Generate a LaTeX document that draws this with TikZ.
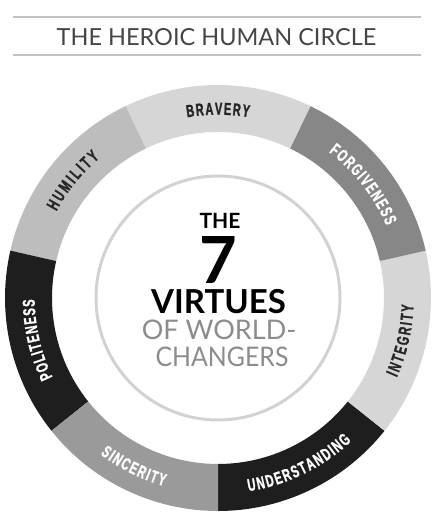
\documentclass[tikz,border=0pt]{standalone}
\usepackage{fontspec}
\usetikzlibrary{decorations.text}
\newfontfamily\latofont{Lato}
\newfontfamily\ringfont[FakeStretch=0.64,BoldFeatures={FakeBold=1.2}]{Liberation Sans}
\definecolor{segA}{HTML}{D6D6D6}
\definecolor{segB}{HTML}{BDBDBD}
\definecolor{segC}{HTML}{878787}
\definecolor{segD}{HTML}{1E1E1E}
\definecolor{segE}{HTML}{9A9A9A}
\definecolor{darktext}{HTML}{262626}
\definecolor{greytext}{HTML}{8C8C8C}
\definecolor{titletext}{HTML}{454545}
\definecolor{ruleline}{HTML}{C2C2C2}
\definecolor{innerring}{HTML}{D2D2D2}
\tikzset{
  ringlabel/.style n args={2}{decorate,decoration={text along path,
      text={|\ringfont\bfseries\fontsize{17.3}{17.3}\selectfont\color{#1}|#2},
      text align=fit to path}},
  centertext/.style={inner sep=0pt,anchor=center},
}
\begin{document}
\begin{tikzpicture}[x=1pt,y=1pt]
\useasboundingbox (0,0) rectangle (436pt,517pt);
\coordinate (C) at (218pt,219pt);
% title
\coordinate (tl1) at (13pt,500pt); \coordinate (tr1) at (421pt,500pt);
\coordinate (tl2) at (13pt,462pt); \coordinate (tr2) at (421pt,462pt);
\draw[ruleline,line width=1.3pt] (tl1) -- (tr1);
\draw[ruleline,line width=1.3pt] (tl2) -- (tr2);
\node[centertext,text=titletext,font=\latofont\fontsize{23.5}{23.5}\selectfont] (title) at (216.5pt,480.3pt) {THE HEROIC HUMAN CIRCLE};
% ring segments
\foreach \a/\col in {-90/segD, -38.571/segA, 12.857/segC, 64.286/segA, 115.714/segB, 167.143/segD, 218.571/segE}{
  \pgfmathsetmacro{\b}{\a+51.4286}
  \fill[\col] ([shift={(\a:213pt)}]C) arc[start angle=\a,end angle=\b,radius=213pt]
     -- ([shift={(\b:166pt)}]C) arc[start angle=\b,end angle=\a,radius=166pt] -- cycle;
}
% inner circle
\draw[innerring,line width=3pt] (C) circle[radius=122pt];
% ring labels: clockwise, tops outward
\path[ringlabel={darktext}{BRAVERY}] ([shift={(99.7:183.3pt)}]C) arc[start angle=99.7,end angle=80.3,radius=183.3pt];
\path[ringlabel={darktext}{HUMILITY}] ([shift={(151.8:183.3pt)}]C) arc[start angle=151.8,end angle=130.2,radius=183.3pt];
\path[ringlabel={white}{FORGIVENESS}] ([shift={(52.8:183.3pt)}]C) arc[start angle=52.8,end angle=23.2,radius=183.3pt];
\path[ringlabel={white}{POLITENESS}] ([shift={(205.6:183.3pt)}]C) arc[start angle=205.6,end angle=180.4,radius=183.3pt];
% counterclockwise, tops inward
\path[ringlabel={darktext}{INTEGRITY}] ([shift={(-24:195.7pt)}]C) arc[start angle=-24,end angle=-2,radius=195.7pt];
\path[ringlabel={white}{UNDERSTANDING}] ([shift={(-81:195.7pt)}]C) arc[start angle=-81,end angle=-47,radius=195.7pt];
\path[ringlabel={white}{SINCERITY}] ([shift={(233:195.7pt)}]C) arc[start angle=233,end angle=254,radius=195.7pt];
% center text
\node[centertext,text=black,font=\latofont\bfseries\fontsize{21}{21}\selectfont] (the) at (220pt,296pt) {THE};
\node[centertext,text=black,font=\latofont\bfseries\fontsize{65}{65}\selectfont] (seven) at (218pt,257pt) {7};
\node[centertext,text=black,font=\latofont\bfseries\fontsize{33}{33}\selectfont] (virtues) at (218.5pt,215.5pt) {VIRTUES};
\node[centertext,text=greytext,font=\latofont\fontsize{27}{27}\selectfont] (ofworld) at (219pt,187pt) {OF WORLD-};
\node[centertext,text=greytext,font=\latofont\fontsize{27}{27}\selectfont] (changers) at (222pt,160pt) {\scalebox{0.92}[1]{CHANGERS}};
\end{tikzpicture}
\end{document}
